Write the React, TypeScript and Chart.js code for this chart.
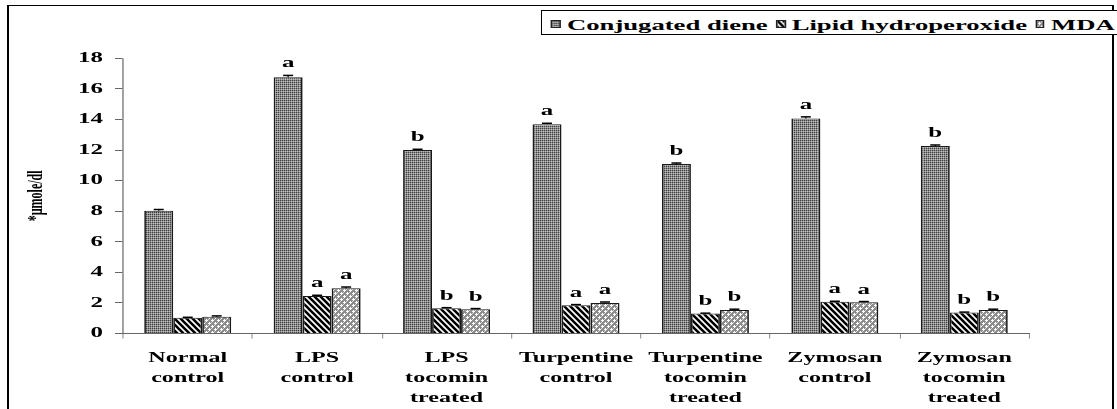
import React, { useEffect, useRef } from "react";
import { Chart, registerables } from "chart.js";

Chart.register(...registerables);

const categories: string[][] = [
  ["Normal", "control"],
  ["LPS", "control"],
  ["LPS", "tocomin", "treated"],
  ["Turpentine", "control"],
  ["Turpentine", "tocomin", "treated"],
  ["Zymosan", "control"],
  ["Zymosan", "tocomin", "treated"],
];

const seriesNames = ["Conjugated diene", "Lipid hydroperoxide", "MDA"];

const conjugatedDiene = [8.03, 16.76, 12.0, 13.68, 11.09, 14.07, 12.26];
const lipidHydroperoxide = [1.03, 2.45, 1.65, 1.85, 1.3, 2.07, 1.37];
const mda = [1.1, 2.96, 1.58, 2.0, 1.54, 2.04, 1.54];

const conjugatedDieneErr = [0.08, 0.12, 0.05, 0.07, 0.06, 0.1, 0.07];
const lipidHydroperoxideErr = [0.03, 0.05, 0.04, 0.04, 0.03, 0.04, 0.03];
const mdaErr = [0.05, 0.08, 0.05, 0.06, 0.05, 0.05, 0.05];

const conjugatedDieneLetters = ["", "a", "b", "a", "b", "a", "b"];
const lipidHydroperoxideLetters = ["", "a", "b", "a", "b", "a", "b"];
const mdaLetters = ["", "a", "b", "a", "b", "a", "b"];

const yTicks = [0, 2, 4, 6, 8, 10, 12, 14, 16, 18];
const yTitle = "*µmole/dl";

const SERIES = [conjugatedDiene, lipidHydroperoxide, mda];
const ERRS = [conjugatedDieneErr, lipidHydroperoxideErr, mdaErr];
const LETTERS = [conjugatedDieneLetters, lipidHydroperoxideLetters, mdaLetters];

// horizontal stretch of the whole picture
const S = 1.72;
const u = (px: number) => px / S;
const W = 1117;
const H = 409;
const FONT = "'Liberation Serif', 'Times New Roman', serif";

function makeTile(kind: number): HTMLCanvasElement {
  const c = document.createElement("canvas");
  const n = 6;
  c.width = n;
  c.height = n;
  const g = c.getContext("2d")!;
  if (kind === 0) {
    g.fillStyle = "#8e8e8e";
    g.fillRect(0, 0, n, n);
    for (let y = 0; y < n; y += 2)
      for (let x = 0; x < n; x += 2) {
        g.fillStyle = "#3e3e3e";
        g.fillRect(x, y, 1, 1);
        g.fillStyle = "#bcbcbc";
        g.fillRect(x + 1, y + 1, 1, 1);
      }
  } else if (kind === 1) {
    g.fillStyle = "#ffffff";
    g.fillRect(0, 0, n, n);
    g.strokeStyle = "#000000";
    g.lineWidth = 2.6;
    g.beginPath();
    for (const k of [-n, 0, n]) {
      g.moveTo(k - 1, -1);
      g.lineTo(k + n + 1, n + 1);
    }
    g.stroke();
  } else {
    g.fillStyle = "#8c8c8c";
    g.fillRect(0, 0, n, n);
    g.fillStyle = "#ffffff";
    g.fillRect(2, 1, 1, 3);
    g.fillRect(1, 2, 3, 1);
    g.fillRect(5, 4, 1, 3);
    g.fillRect(4, 5, 3, 1);
    g.fillRect(5, 0, 1, 1);
    g.fillRect(0, 5, 1, 1);
    g.fillStyle = "#d8d8d8";
    g.fillRect(4, 1, 1, 1);
    g.fillRect(1, 4, 1, 1);
  }
  return c;
}

export default function App() {
  const ref = useRef<HTMLCanvasElement | null>(null);
  const [swatches, setSwatches] = React.useState<string[]>(["", "", ""]);

  useEffect(() => {
    const canvas = ref.current!;
    const ctx = canvas.getContext("2d")!;
    const tiles = [0, 1, 2].map(makeTile);
    setSwatches(tiles.map((t) => t.toDataURL()));
    const patterns = tiles.map((t) => {
      const p = ctx.createPattern(t, "repeat")!;
      p.setTransform(new DOMMatrix([1 / S, 0, 0, 1, 0, 0]));
      return p;
    });

    const stretchPlugin = {
      id: "stretch",
      beforeDraw(chart: any) {
        chart.ctx.setTransform(S, 0, 0, 1, 0, 0);
      },
      afterDraw(chart: any) {
        chart.ctx.setTransform(1, 0, 0, 1, 0, 0);
      },
    };

    const errPlugin = {
      id: "errbars",
      afterDatasetsDraw(chart: any) {
        const c = chart.ctx;
        const y = chart.scales.y;
        chart.data.datasets.forEach((ds: any, i: number) => {
          const meta = chart.getDatasetMeta(i);
          meta.data.forEach((bar: any, j: number) => {
            const v = ds.data[j];
            const e = ERRS[i][j];
            const yTop = y.getPixelForValue(v + e);
            const yBot = y.getPixelForValue(v);
            c.save();
            c.strokeStyle = "#000";
            c.lineWidth = u(1.2);
            c.beginPath();
            c.moveTo(bar.x, yBot);
            c.lineTo(bar.x, yTop);
            c.stroke();
            c.lineWidth = 1.5;
            c.beginPath();
            c.moveTo(bar.x - u(5), yTop);
            c.lineTo(bar.x + u(5), yTop);
            c.stroke();
            const L = LETTERS[i][j];
            if (L) {
              c.font = `bold 14.5px ${FONT}`;
              c.textAlign = "center";
              c.textBaseline = "alphabetic";
              c.fillStyle = "#000";
              c.fillText(L, bar.x, yTop - 8);
            }
            c.restore();
          });
        });
      },
    };

    const chart = new Chart(canvas, {
      type: "bar",
      data: {
        labels: categories,
        datasets: SERIES.map((d, i) => ({
          label: seriesNames[i],
          data: d,
          backgroundColor: patterns[i],
          borderColor: "#1a1a1a",
          borderWidth: 1,
          categoryPercentage: 0.672,
          barPercentage: 1.0,
        })),
      },
      options: {
        animation: false,
        responsive: false,
        maintainAspectRatio: false,
        devicePixelRatio: 1,
        events: [],
        layout: {
          padding: { top: 58.3, left: 0, right: W - u(1029), bottom: 0 },
        },
        plugins: {
          legend: { display: false },
          tooltip: { enabled: false },
        },
        scales: {
          x: {
            grid: {
              drawOnChartArea: false,
              drawTicks: true,
              tickLength: 5,
              color: "#666",
              lineWidth: u(1),
              offset: true,
            },
            border: { display: true, color: "#666", width: 1 },
            ticks: {
              color: "#000",
              font: { family: FONT, size: 14, weight: "bold", lineHeight: "20px" },
              padding: 9.5,
              maxRotation: 0,
              autoSkip: false,
            },
            afterFit: (scale: any) => {
              scale.height = H - 333.5;
            },
          },
          y: {
            min: 0,
            max: 18,
            afterBuildTicks: (scale: any) => {
              scale.ticks = yTicks.map((v) => ({ value: v }));
            },
            grid: {
              drawOnChartArea: false,
              drawTicks: true,
              tickLength: u(8),
              color: "#666",
              lineWidth: 1,
            },
            border: { display: true, color: "#666", width: u(1.2) },
            ticks: {
              color: "#000",
              font: { family: FONT, size: 14.5, weight: "bold" },
              padding: u(123) - u(103) - u(8),
            },
            title: {
              display: true,
              text: yTitle,
              color: "#000",
              font: { family: FONT, size: 12, weight: "bold" },
              padding: { top: 14, bottom: 0 },
            },
            afterFit: (scale: any) => {
              scale.width = u(123);
            },
          },
        },
      },
      plugins: [stretchPlugin, errPlugin],
    } as any);

    return () => chart.destroy();
  }, []);

  const itemText: React.CSSProperties = {
    display: "inline-block",
    verticalAlign: "middle",
  };

  return (
    <div
      style={{
        position: "fixed",
        left: 0,
        top: 0,
        width: W,
        height: H,
        overflow: "hidden",
        background: "#fff",
      }}
    >
      <canvas
        ref={ref}
        width={W}
        height={H}
        style={{ position: "absolute", left: 0, top: 0, width: W, height: H }}
      />
      <div
        style={{
          position: "absolute",
          left: 7,
          top: 5,
          width: 1114 - 7,
          height: 430,
          borderLeft: "2px solid #000",
          borderTop: "1.5px solid #000",
          borderRight: "2px solid #000",
          boxSizing: "border-box",
        }}
      />
      <div
        style={{
          position: "absolute",
          left: 541,
          top: 10,
          width: 700,
          height: 25,
          border: "1px solid #000",
          boxSizing: "border-box",
          background: "#fff",
          overflow: "hidden",
        }}
      >
        <div
          style={{
            transform: `scaleX(${S})`,
            transformOrigin: "0 0",
            whiteSpace: "nowrap",
            fontFamily: FONT,
            fontWeight: "bold",
            fontSize: 15.5,
            lineHeight: "23px",
            color: "#000",
          }}
        >
          {seriesNames.map((name, i) => (
            <span key={name}>
              <span
                style={{
                  display: "inline-block",
                  verticalAlign: "middle",
                  marginLeft: u(i === 0 ? 9 : 8),
                  width: u(10),
                  height: 8,
                  border: `${u(1)}px solid #222`,
                  borderTopWidth: 1,
                  borderBottomWidth: 1,
                  boxSizing: "border-box",
                  backgroundImage: swatches[i] ? `url(${swatches[i]})` : undefined,
                  backgroundSize: `${u(6)}px 6px`,
                }}
              />
              <span style={{ ...itemText, marginLeft: u(6) }}>{name}</span>
            </span>
          ))}
        </div>
      </div>
    </div>
  );
}
